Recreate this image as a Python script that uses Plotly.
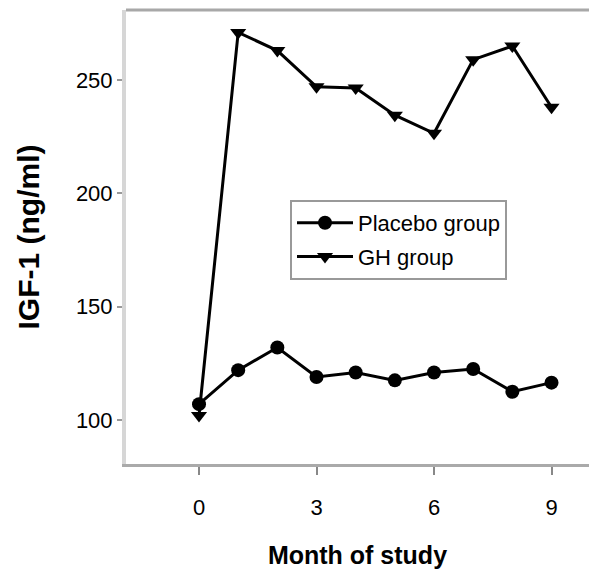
import plotly.graph_objects as go

months = [0, 1, 2, 3, 4, 5, 6, 7, 8, 9]
placebo = [107, 122, 132, 119, 121, 117.5, 121, 122.5, 112.5, 116.5]
gh = [102, 271, 263, 247, 246.5, 234.5, 226.5, 259, 265, 238]
x_ticks = [0, 3, 6, 9]
y_ticks = [100, 150, 200, 250]

FONT = "Liberation Sans, Arial, sans-serif"

fig = go.Figure()
fig.add_trace(go.Scatter(x=months, y=placebo, mode="lines+markers", name="Placebo group",
                         legendgroup="p",
                         line=dict(color="black", width=3),
                         marker=dict(symbol="circle", size=14, color="black")))
fig.add_trace(go.Scatter(x=months, y=gh, mode="lines+markers", name="GH group",
                         legendgroup="g",
                         line=dict(color="black", width=3),
                         marker=dict(symbol="triangle-down", size=14, color="black")))

fig.update_layout(
    width=589, height=576,
    margin=dict(l=126, r=0, t=10, b=112),
    paper_bgcolor="white", plot_bgcolor="white",
    font=dict(family=FONT, size=22, color="black"),
    showlegend=True,
    legend=dict(x=(290 - 126) / 463, y=(464 - 200) / 454, xanchor="left", yanchor="top",
                bgcolor="white", bordercolor="#999999", borderwidth=2,
                itemwidth=56, tracegroupgap=2,
                font=dict(family=FONT, size=22, color="black")),
    xaxis=dict(range=[-1.864, 9.957], tickvals=x_ticks, showgrid=False, zeroline=False,
               showline=True, linecolor="#aaaaaa", linewidth=3, mirror=False,
               ticks="outside", ticklen=8, tickcolor="#888888", tickwidth=2,
               ticklabelstandoff=14,
               title=dict(text="<b>Month of study</b>", font=dict(family=FONT, size=25), standoff=28)),
    yaxis=dict(range=[80.6, 280.9], tickvals=y_ticks, showgrid=False, zeroline=False,
               showline=True, linecolor="#d6d6d6", linewidth=4,
               ticks="outside", ticklen=5, tickcolor="#999999", tickwidth=2,
               title=dict(text="<b>IGF-1 (ng/ml)</b>", font=dict(family=FONT, size=30), standoff=28)),
)
fig.add_shape(type="line", xref="paper", yref="paper", x0=0, x1=1, y0=1, y1=1,
              line=dict(color="#a8a8a8", width=3))
fig.write_html("out.html")
